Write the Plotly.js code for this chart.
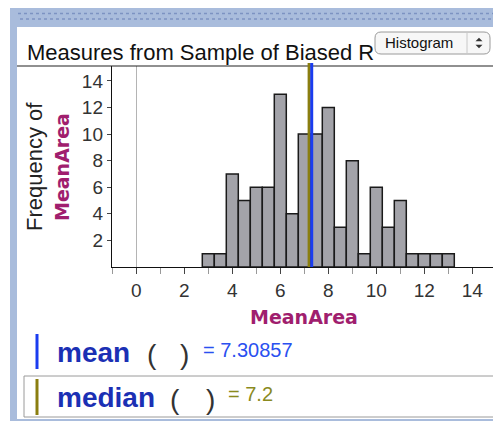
<!DOCTYPE html>
<html>
<head>
<meta charset="utf-8">
<script src="https://cdn.plot.ly/plotly-3.0.1.min.js"></script>
<style>
html,body{margin:0;padding:0;overflow:hidden;background:#fff;}
#chart{width:530px;height:421px;}
</style>
</head>
<body>
<div id="chart"></div>
<script>
// ---- data ----
const binCenters = [3.0,3.5,4.0,4.5,5.0,5.5,6.0,6.5,7.0,7.5,8.0,8.5,9.0,9.5,10.0,10.5,11.0,11.5,12.0,12.5,13.0];
const counts     = [1,  1,  7,  5,  6,  6,  13, 4,  10, 10, 12, 3,  8,  1,  6,   3,   5,   1,   1,   1,   1];
const binWidth = 0.5;
const xTickVals = [0,2,4,6,8,10,12,14];
const xMinorVals = [-1,1,3,5,7,9,11,13,15];
const yTickVals = [2,4,6,8,10,12,14];
const meanValue = 7.30857;
const medianValue = 7.2;
const chartTitle = "Measures from Sample of Biased R";
const varName = "MeanArea";
const meanLabel = "= 7.30857";
const medianLabel = "= 7.2";

// ---- geometry helpers (pixel -> paper) ----
const W = 530, H = 421, ML = 112, MT = 66, MB = 154, MR = 0;
const PW = W - ML - MR, PH = H - MT - MB;
const px = x => (x - ML) / PW;
const py = y => (H - MB - y) / PH;

const FONT = "Liberation Sans, Arial, sans-serif";
const BOLD = "DejaVu Sans, Verdana, sans-serif";
const MAGENTA = "#a01e6e";
const BLUE_LINE = "#1a3cf0";
const OLIVE = "#8a7e10";
const DARKBLUE = "#1b30b4";

const trace = {
  type: "bar",
  x: binCenters,
  y: counts,
  width: binWidth,
  marker: {color: "#a3a3a9", line: {color: "#1a1a1a", width: 1.5}},
  hoverinfo: "skip"
};

function rect(x0,y0,x1,y1,fill,line){
  return {type:"rect", xref:"paper", yref:"paper", x0:px(x0), x1:px(x1), y0:py(y1), y1:py(y0),
    fillcolor: fill || "rgba(0,0,0,0)", line: line || {width:0}, layer:"above"};
}
function hline(x0,x1,y,color,width,dash){
  return {type:"line", xref:"paper", yref:"paper", x0:px(x0), x1:px(x1), y0:py(y), y1:py(y),
    line:{color:color, width:width, dash:dash||"solid"}, layer:"above"};
}
function vline(x,y0,y1,color,width){
  return {type:"line", xref:"paper", yref:"paper", x0:px(x), x1:px(x), y0:py(y0), y1:py(y1),
    line:{color:color, width:width}, layer:"above"};
}
function roundRect(x0,y0,x1,y1,r){
  const X0=px(x0),X1=px(x1),Y0=py(y0),Y1=py(y1);
  const rx=r/PW, ry=r/PH;
  return `M${X0+rx},${Y0} L${X1-rx},${Y0} Q${X1},${Y0} ${X1},${Y0-ry} L${X1},${Y1+ry} Q${X1},${Y1} ${X1-rx},${Y1} L${X0+rx},${Y1} Q${X0},${Y1} ${X0},${Y1+ry} L${X0},${Y0-ry} Q${X0},${Y0} ${X0+rx},${Y0} Z`;
}
function tri(cx,cy,up){
  const w=3.5,h=3.5;
  if(up) return `M${px(cx-w)},${py(cy+h/2)} L${px(cx+w)},${py(cy+h/2)} L${px(cx)},${py(cy-h/2)} Z`;
  return `M${px(cx-w)},${py(cy-h/2)} L${px(cx+w)},${py(cy-h/2)} L${px(cx)},${py(cy+h/2)} Z`;
}

const shapes = [
  // frame decorations
  rect(10,8,W,27,"#a9bcdc"),
  hline(12,W,13.5,"#7d93c2",1.5,"dot"),
  hline(14,W,19,"#7d93c2",1.5,"dot"),
  rect(10,8,17,421,"#a9bcdc"),
  rect(10,419,W,421,"#a9bcdc"),
  hline(17,W,66,"#222",1.2),
  // median / mean lines
  {type:"line", xref:"x", yref:"paper", x0:medianValue, x1:medianValue, y0:0, y1:1.015,
   line:{color:OLIVE, width:3}, layer:"above"},
  {type:"line", xref:"x", yref:"paper", x0:meanValue, x1:meanValue, y0:0, y1:1.015,
   line:{color:BLUE_LINE, width:3}, layer:"above"},
  // legend rows
  rect(24,376,W+5,417,null,{color:"#9a9a9a",width:1}),
  rect(35.5,334,38.5,369,BLUE_LINE),
  rect(35.5,379,38.5,415,OLIVE),
  // histogram button
  {type:"path", xref:"paper", yref:"paper", path: roundRect(375,32,490,54,6),
   fillcolor:"#f7f7f7", line:{color:"#9a9a9a", width:1}, layer:"above"},
  vline(467,33,53,"#c8c8c8",1),
  {type:"path", xref:"paper", yref:"paper", path: tri(479,39.5,true), fillcolor:"#333", line:{width:0}, layer:"above"},
  {type:"path", xref:"paper", yref:"paper", path: tri(479,46.5,false), fillcolor:"#333", line:{width:0}, layer:"above"}
];

function ann(text,x,y,opts){
  return Object.assign({text:text, xref:"paper", yref:"paper", x:px(x), y:py(y),
    xanchor:"left", yanchor:"middle", showarrow:false, font:{family:FONT, size:20, color:"#000"}}, opts||{});
}

const annotations = [
  ann(chartTitle, 25, 52, {font:{family:FONT, size:22, color:"#111"}}),
  ann("Histogram", 383, 43, {font:{family:FONT, size:15, color:"#111"}}),
  ann("Frequency of", 34, 167, {xanchor:"center", textangle:-90, font:{family:FONT, size:22, color:"#222"}}),
  ann("<b>"+varName+"</b>", 62, 167, {xanchor:"center", textangle:-90, font:{family:BOLD, size:19, color:MAGENTA}}),
  ann("<b>"+varName+"</b>", 304, 317, {xanchor:"center", font:{family:BOLD, size:19, color:MAGENTA}}),
  ann("<b>mean</b>", 55, 352, {font:{family:FONT, size:28, color:DARKBLUE}}),
  ann("(", 145, 354, {font:{family:FONT, size:28, color:"#333"}}),
  ann(")", 178, 354, {font:{family:FONT, size:28, color:"#333"}}),
  ann(meanLabel, 201, 350, {font:{family:FONT, size:20, color:"#2a50f0"}}),
  ann("<b>median</b>", 55, 397, {font:{family:FONT, size:28, color:DARKBLUE}}),
  ann("(", 168, 399, {font:{family:FONT, size:28, color:"#333"}}),
  ann(")", 204, 399, {font:{family:FONT, size:28, color:"#333"}}),
  ann(medianLabel, 226, 394, {font:{family:FONT, size:20, color:"#8a8a1e"}})
];

const layout = {
  width: W, height: H,
  margin: {l:ML, r:MR, t:MT, b:MB, pad:0},
  paper_bgcolor: "#fff", plot_bgcolor: "#fff",
  showlegend: false,
  bargap: 0,
  xaxis: {
    range: [-(136.3-ML)/24, -(136.3-ML)/24 + PW/24],
    tickvals: xTickVals, ticktext: xTickVals.map(String),
    ticks: "outside", ticklen: 6, tickwidth: 1, tickcolor: "#444",
    minor: {tickvals: xMinorVals, ticks: "outside", ticklen: 6, tickwidth: 1, tickcolor: "#999", showgrid:false},
    showline: true, linecolor: "#111", linewidth: 1.2,
    showgrid: false,
    zeroline: true, zerolinecolor: "#b4b4b4", zerolinewidth: 1.5,
    tickfont: {family: FONT, size: 19, color: "#333"},
    fixedrange: true
  },
  yaxis: {
    range: [0, PH/13.29],
    tickvals: yTickVals, ticktext: yTickVals.map(String),
    ticks: "outside", ticklen: 4, tickwidth: 1, tickcolor: "#444",
    showline: true, linecolor: "#111", linewidth: 1.2,
    showgrid: false, zeroline: false,
    tickfont: {family: FONT, size: 19, color: "#333"},
    fixedrange: true
  },
  shapes: shapes,
  annotations: annotations
};

Plotly.newPlot("chart", [trace], layout, {displayModeBar:false, staticPlot:true});
</script>
</body>
</html>
